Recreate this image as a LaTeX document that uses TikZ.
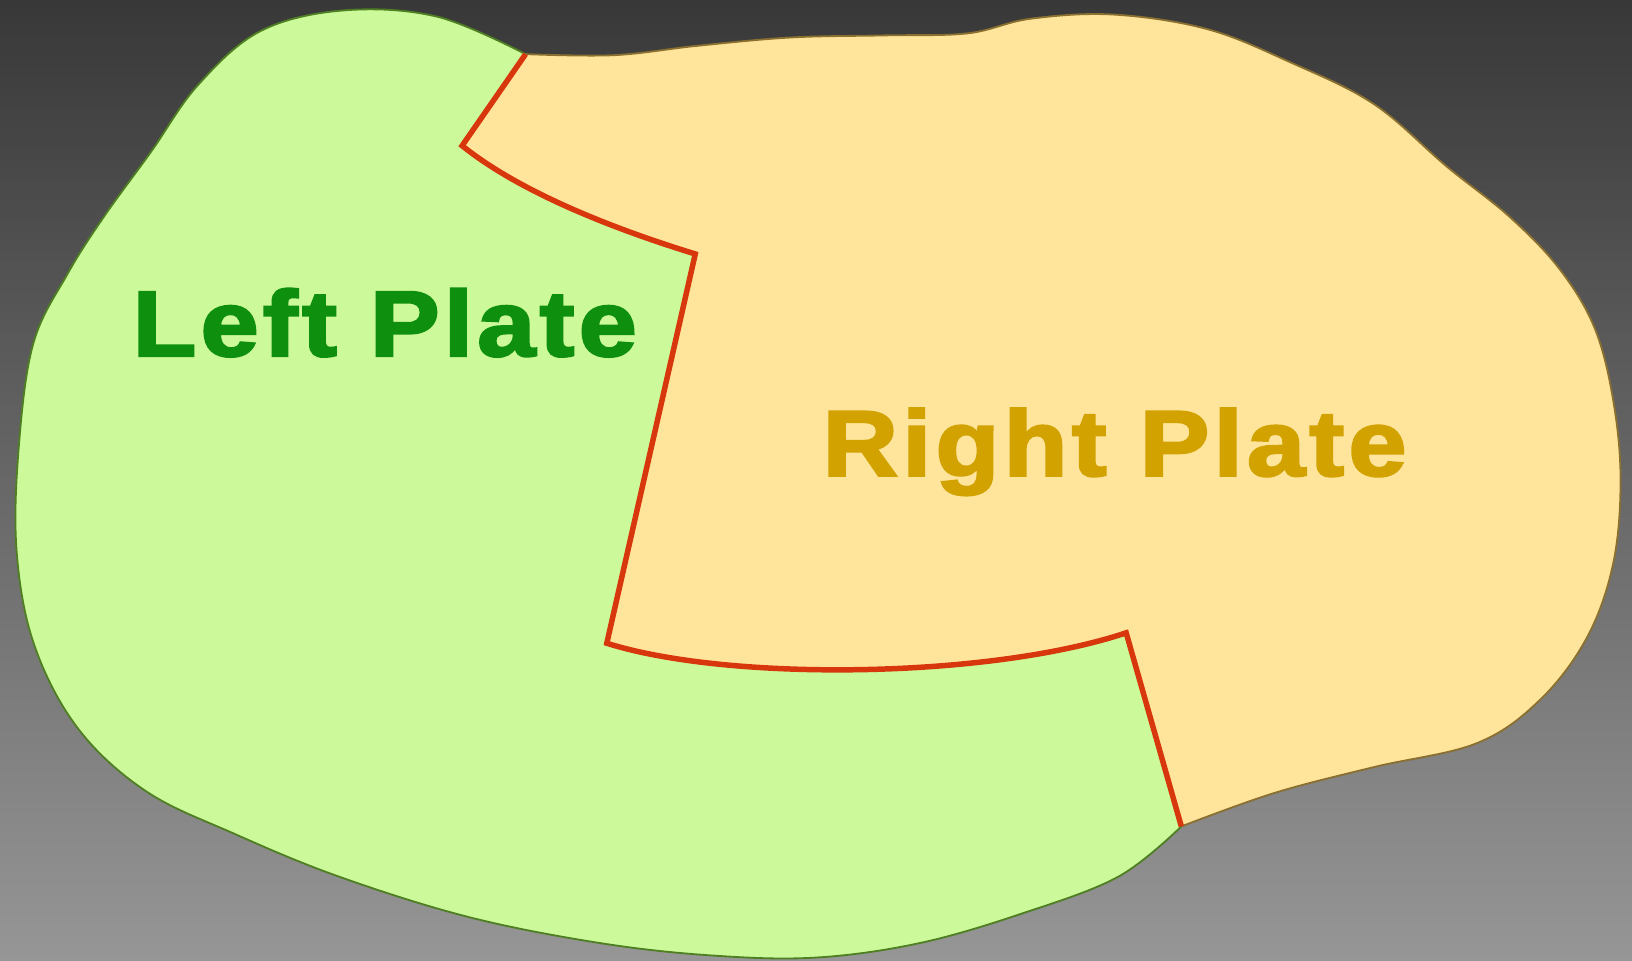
\documentclass[tikz,border=0pt]{standalone}
\usepackage{fontspec}
\setmainfont{Liberation Sans}
\newfontfamily\platefont[LetterSpace=4.2, FakeBold=2.5]{Liberation Sans Bold}
\definecolor{bgtop}{HTML}{383838}
\definecolor{bgbot}{HTML}{969696}
\definecolor{greenfill}{HTML}{CCF99A}
\definecolor{orangefill}{HTML}{FFE59B}
\definecolor{redline}{HTML}{D8360C}
\definecolor{greenedge}{HTML}{4F7F23}
\definecolor{orangeedge}{HTML}{8A7030}
\definecolor{greentext}{HTML}{0E900E}
\definecolor{goldtext}{HTML}{D1A200}
\tikzset{
  platelabel/.style={inner sep=0pt, anchor=base west, xscale=1.12,
    font=\platefont\fontsize{50.9pt}{60pt}\selectfont},
  boundary/.style={draw=redline, line width=3pt, line join=miter},
  edgegreen/.style={draw=greenedge, line width=1pt},
  edgeorange/.style={draw=orangeedge, line width=1pt}
}
\def\rightouter{(1135,794) (1224,762) (1320,737) (1419,714) (1480,672) (1525,612) (1550,541) (1557,461) (1550,385) (1532,315) (1498,258) (1450,208) (1390,160) (1320,100) (1240,60) (1160,28) (1070,14) (990,18) (930,32) (850,34) (760,36) (670,44) (590,53) (505,52)}
\def\leftouter{(1135,794) (1075,842) (984,877) (884,906) (784,920) (684,918) (576,906) (450,881) (325,842) (225,801) (140,760) (75,700) (33,620) (16,530) (18,430) (32,330) (65,263) (100,208) (145,146) (190,82) (250,30) (330,10) (420,16) (505,52)}
\begin{document}
\begin{tikzpicture}[x=0.02cm, y=-0.02cm]
\shade[top color=bgtop, bottom color=bgbot] (0,0) rectangle (1568,923);
\useasboundingbox (0,0) rectangle (1568,923);

% right plate
\fill[orangefill] (505,52) -- (444,140) .. controls (500,185) and (590,220) .. (668,244)
  -- (583,618) .. controls (700,655) and (950,652) .. (1082,608) -- (1135,794)
  -- plot[smooth, tension=0.6] coordinates {\rightouter} -- cycle;
\draw[edgeorange] plot[smooth, tension=0.6] coordinates {\rightouter};

% left plate
\fill[greenfill] (505,52) -- (444,140) .. controls (500,185) and (590,220) .. (668,244)
  -- (583,618) .. controls (700,655) and (950,652) .. (1082,608) -- (1135,794)
  -- plot[smooth, tension=0.6] coordinates {\leftouter} -- cycle;
\draw[edgegreen] plot[smooth, tension=0.6] coordinates {\leftouter};

% boundary
\coordinate (b1) at (505,52);
\coordinate (b2) at (444,140);
\coordinate (b3) at (668,244);
\coordinate (b4) at (583,618);
\coordinate (b5) at (1082,608);
\coordinate (b6) at (1135,794);
\draw[boundary] (b1) -- (b2) .. controls (500,185) and (590,220) .. (b3)
  -- (b4) .. controls (700,655) and (950,652) .. (b5) -- (b6);

\node[platelabel, text=greentext] (leftlabel) at (127,342) {Left Plate};
\node[platelabel, text=goldtext] (rightlabel) at (790,457) {Right Plate};
\end{tikzpicture}
\end{document}
